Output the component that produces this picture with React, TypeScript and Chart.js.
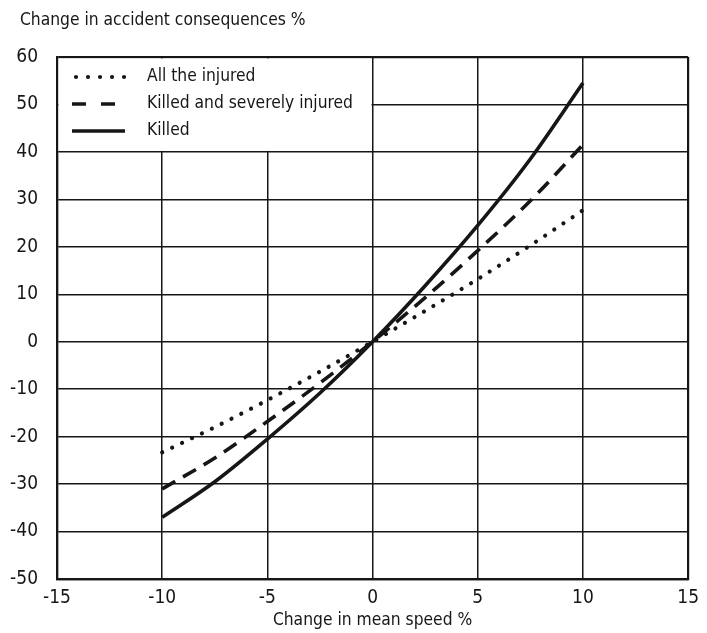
import React, { useEffect, useRef } from "react";
import { Chart, registerables } from "chart.js";

Chart.register(...registerables);

// Change in mean speed (%) along the x axis
const SPEED = [-10, -7.5, -5, -2.5, 0, 2.5, 5, 7.5, 10];
// Change in accident consequences (%) per group
const ALL_INJURED = [-23.3, -18, -12.3, -6.3, 0, 6.5, 13.2, 20.3, 27.7];
const KILLED_SEVERE = [-31, -24.5, -16.8, -8.7, 0, 9.3, 19.2, 29.7, 41.5];
const KILLED = [-37, -29.5, -20.5, -10.8, 0, 11.8, 24.5, 38.5, 54.5];

const SERIES_NAMES = ["All the injured", "Killed and severely injured", "Killed"];
const X_TICKS = [-15, -10, -5, 0, 5, 10, 15];
const Y_TICKS = [-50, -40, -30, -20, -10, 0, 10, 20, 30, 40, 50, 60];

const X_TITLE = "Change in mean speed %";
const Y_TITLE = "Change in accident consequences %";

const FONT_FAMILY = "'DejaVu Sans Condensed', 'Liberation Sans', sans-serif";
const INK = "#161616";
const LINE_W = 3.6;

const toPoints = (ys: number[]) => SPEED.map((x, i) => ({ x, y: ys[i] }));

// Styles for each series: dotted, dashed, solid
const STYLES = [
  { dash: [0.01, 11], cap: "round" as CanvasLineCap, width: 4.2 },
  { dash: [15, 9], cap: "butt" as CanvasLineCap, width: LINE_W },
  { dash: [] as number[], cap: "butt" as CanvasLineCap, width: LINE_W },
];

const legendAndTitles = {
  id: "legendAndTitles",
  beforeDatasetsDraw(chart: any) {
    const { ctx } = chart;
    const xs = chart.scales.x;
    const ys = chart.scales.y;
    // White legend box over the upper-left grid cells
    const l = xs.getPixelForValue(-15) + 1.5;
    const r = xs.getPixelForValue(0) - 1;
    const t = ys.getPixelForValue(60) + 1.5;
    const b = ys.getPixelForValue(40) - 1;
    ctx.save();
    ctx.fillStyle = "#fff";
    ctx.fillRect(l, t, r - l, b - t);
    ctx.restore();
  },
  afterDraw(chart: any) {
    const { ctx } = chart;
    ctx.save();
    ctx.fillStyle = INK;
    ctx.font = `17.3px ${FONT_FAMILY}`;
    ctx.textBaseline = "middle";

    // Axis titles
    ctx.textAlign = "left";
    ctx.fillText(Y_TITLE, 20, 21);
    ctx.textAlign = "center";
    ctx.fillText(X_TITLE, chart.scales.x.getPixelForValue(0), 621);

    // Legend entries
    const rows = [77, 104, 131];
    const x0 = 72;
    const x1 = 125;
    ctx.textAlign = "left";
    rows.forEach((y, i) => {
      ctx.strokeStyle = INK;
      ctx.lineWidth = STYLES[i].width;
      ctx.lineCap = STYLES[i].cap;
      if (i === 0) {
        ctx.setLineDash([0.01, 12]);
        ctx.beginPath();
        ctx.moveTo(x0 + 4, y);
        ctx.lineTo(x1, y);
        ctx.stroke();
      } else if (i === 1) {
        ctx.setLineDash([14, 15]);
        ctx.beginPath();
        ctx.moveTo(x0, y);
        ctx.lineTo(x1 - 10, y);
        ctx.stroke();
      } else {
        ctx.setLineDash([]);
        ctx.beginPath();
        ctx.moveTo(x0, y);
        ctx.lineTo(x1, y);
        ctx.stroke();
      }
      ctx.setLineDash([]);
      ctx.fillText(SERIES_NAMES[i], 147, y);
    });
    ctx.restore();
  },
};

export default function App() {
  const canvasRef = useRef<HTMLCanvasElement | null>(null);

  useEffect(() => {
    document.body.style.margin = "0";
    const canvas = canvasRef.current;
    if (!canvas) return;

    const seriesData = [ALL_INJURED, KILLED_SEVERE, KILLED];
    const chart = new Chart(canvas, {
      type: "line",
      data: {
        datasets: seriesData.map((ys, i) => ({
          label: SERIES_NAMES[i],
          data: toPoints(ys),
          borderColor: INK,
          borderWidth: STYLES[i].width,
          borderDash: STYLES[i].dash,
          borderCapStyle: STYLES[i].cap,
          pointRadius: 0,
          fill: false,
          cubicInterpolationMode: "monotone" as const,
        })),
      },
      options: {
        animation: false,
        responsive: false,
        maintainAspectRatio: false,
        layout: { padding: { top: 57, right: 18, left: 0, bottom: 0 } },
        plugins: {
          legend: { display: false },
          tooltip: { enabled: false },
          title: { display: false },
        },
        scales: {
          x: {
            type: "linear",
            min: -15,
            max: 15,
            afterBuildTicks: (scale: any) => {
              scale.ticks = X_TICKS.map((v) => ({ value: v }));
            },
            afterFit: (scale: any) => {
              scale.height = 54;
            },
            ticks: {
              color: INK,
              font: { family: FONT_FAMILY, size: 19 },
              padding: 8,
              maxRotation: 0,
              autoSkip: false,
            },
            grid: {
              color: INK,
              lineWidth: (c: any) => (c.tick && Math.abs(c.tick.value) === 15 ? 2.2 : 1.5),
              drawTicks: false,
            },
            border: { display: true, color: INK, width: 2.2 },
          },
          y: {
            type: "linear",
            min: -50,
            max: 60,
            afterBuildTicks: (scale: any) => {
              scale.ticks = Y_TICKS.map((v) => ({ value: v }));
            },
            afterFit: (scale: any) => {
              scale.width = 57;
            },
            ticks: {
              color: INK,
              font: { family: FONT_FAMILY, size: 19 },
              padding: 19,
              autoSkip: false,
            },
            grid: {
              color: INK,
              lineWidth: (c: any) =>
                c.tick && (c.tick.value === 60 || c.tick.value === -50) ? 2.2 : 1.5,
              drawTicks: false,
            },
            border: { display: true, color: INK, width: 2.2 },
          },
        },
      },
      plugins: [legendAndTitles],
    });

    return () => chart.destroy();
  }, []);

  return (
    <div style={{ width: 707, height: 633, background: "#fff" }}>
      <canvas ref={canvasRef} width={707} height={633} style={{ display: "block" }} />
    </div>
  );
}
